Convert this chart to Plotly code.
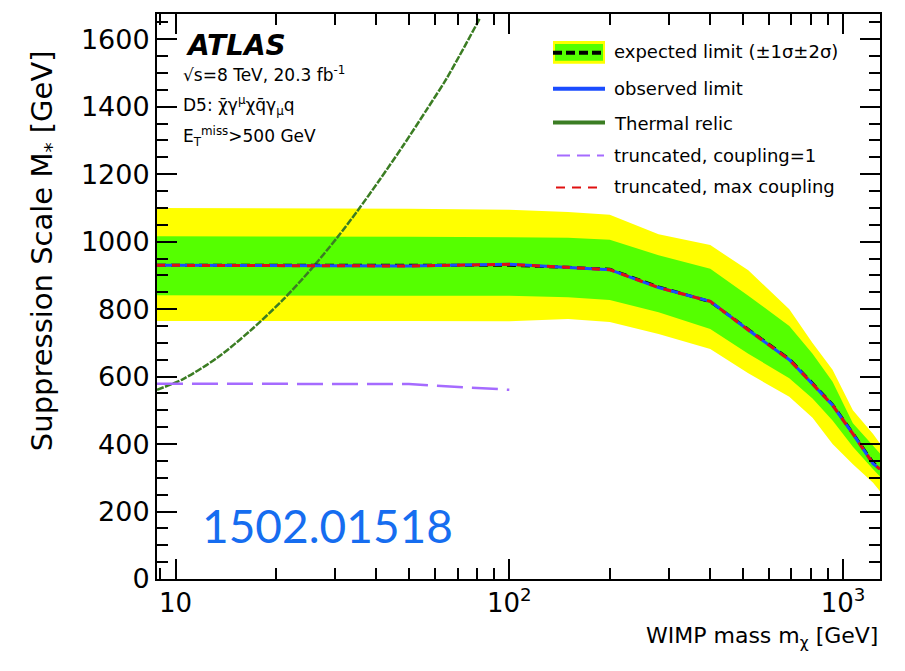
import plotly.graph_objects as go

# ---- data -----------------------------------------------------------------
# WIMP mass points [GeV] for the limit curves and bands
mass = [8.8, 10, 50, 100, 150, 200, 280, 400, 520, 690, 810, 930, 1070, 1230, 1290]
expected = [930, 930, 929, 930, 924, 918, 866, 822, 740, 652, 580, 517, 432, 345, 328]
observed = [930, 930, 928, 933, 924, 917, 864, 823, 738, 650, 578, 515, 430, 342, 326]
band_2s_up = [1100, 1100, 1098, 1095, 1088, 1080, 1022, 990, 915, 800, 700, 620, 500, 430, 402]
band_1s_up = [1016, 1016, 1015, 1013, 1012, 1006, 960, 920, 840, 750, 668, 585, 462, 395, 372]
band_1s_dn = [841, 841, 840, 840, 835, 827, 791, 741, 668, 595, 535, 470, 392, 325, 304]
band_2s_dn = [765, 765, 765, 764, 771, 762, 726, 682, 610, 540, 478, 400, 340, 285, 260]
trunc_max = [930, 930, 928, 933, 924, 917, 864, 823, 738, 650, 578, 515, 430, 342, 326]

# thermal relic curve
relic_mass = [8.8, 10.5, 13.3, 16.7, 21.0, 25.3, 30.5, 35.0, 41.0, 48.1, 56.7, 65.0, 81.6]
relic_ms = [561, 592, 655, 735, 828, 915, 1012, 1090, 1185, 1285, 1393, 1485, 1662]

# truncated limit, coupling = 1
trunc1_mass = [8.8, 20, 50, 75, 100]
trunc1_ms = [579, 579, 578, 568, 561]

# axis ticks
x_major = [10, 100, 1000]
x_major_text = ["10", "10<sup>2</sup>", "10<sup>3</sup>"]
x_minor = [9, 20, 30, 40, 50, 60, 70, 80, 90, 200, 300, 400, 500, 600, 700, 800, 900]

# ---- styling ----------------------------------------------------------------
FONT = "DejaVu Sans"
YELLOW = "#ffff00"
GREEN = "#55ff00"
BLUE = "#1a4cff"
RED = "#e01010"
RELIC = "#3b7d23"
PURPLE = "#a56bff"

W, H = 905, 671
L, R, T, B = 157, 25, 12, 92
PW, PH = W - L - R, H - T - B


def px(xp):
    return (xp - L) / PW


def py(yp):
    return (H - B - yp) / PH


fig = go.Figure()

# ±2σ and ±1σ bands
fig.add_trace(go.Scatter(x=mass + mass[::-1], y=band_2s_up + band_2s_dn[::-1],
                         fill="toself", fillcolor=YELLOW, mode="lines",
                         line=dict(width=0), hoverinfo="skip"))
fig.add_trace(go.Scatter(x=mass + mass[::-1], y=band_1s_up + band_1s_dn[::-1],
                         fill="toself", fillcolor=GREEN, mode="lines",
                         line=dict(width=0), hoverinfo="skip"))

# thermal relic
fig.add_trace(go.Scatter(x=relic_mass, y=relic_ms, mode="lines",
                         line=dict(color=RELIC, width=2.5, dash="7px,1.5px",
                                   shape="spline", smoothing=0.8)))
# truncated, coupling = 1
fig.add_trace(go.Scatter(x=trunc1_mass, y=trunc1_ms, mode="lines",
                         line=dict(color=PURPLE, width=2.5, dash="26px,9px")))
# expected, observed, truncated max coupling
fig.add_trace(go.Scatter(x=mass, y=expected, mode="lines",
                         line=dict(color="black", width=3, dash="9px,5px")))
fig.add_trace(go.Scatter(x=mass, y=observed, mode="lines",
                         line=dict(color=BLUE, width=3)))
fig.add_trace(go.Scatter(x=mass, y=trunc_max, mode="lines",
                         line=dict(color=RED, width=3, dash="8px,7px")))

# ---- legend drawn by hand -------------------------------------------------
shapes = []
lx0, lx1 = px(553), px(605)
shapes.append(dict(type="rect", xref="paper", yref="paper", x0=lx0, x1=lx1,
                   y0=py(62), y1=py(39), fillcolor=YELLOW, line=dict(width=0)))
shapes.append(dict(type="rect", xref="paper", yref="paper", x0=px(555), x1=px(603),
                   y0=py(59), y1=py(42), fillcolor=GREEN, line=dict(width=0)))
shapes.append(dict(type="line", xref="paper", yref="paper", x0=lx0, x1=lx1,
                   y0=py(51), y1=py(51), line=dict(color="black", width=4, dash="9px,4px")))
shapes.append(dict(type="line", xref="paper", yref="paper", x0=lx0, x1=lx1,
                   y0=py(87), y1=py(87), line=dict(color=BLUE, width=4)))
shapes.append(dict(type="line", xref="paper", yref="paper", x0=lx0, x1=lx1,
                   y0=py(121), y1=py(121), line=dict(color=RELIC, width=4)))
shapes.append(dict(type="line", xref="paper", yref="paper", x0=px(557), x1=px(604),
                   y0=py(154), y1=py(154), line=dict(color=PURPLE, width=2, dash="13px,7px")))
shapes.append(dict(type="line", xref="paper", yref="paper", x0=px(556), x1=px(600),
                   y0=py(186), y1=py(186), line=dict(color=RED, width=2, dash="9px,7px")))

ann = []
leg_font = dict(family=FONT, size=18, color="black")
for label, yp in [("expected limit (±1σ±2σ)", 50), ("observed limit", 87),
                  ("Thermal relic", 122), ("truncated, coupling=1", 154),
                  ("truncated, max coupling", 185)]:
    ann.append(dict(x=px(612), y=py(yp), xref="paper", yref="paper", text=label,
                    showarrow=False, xanchor="left", yanchor="middle", font=leg_font))

# experiment labels
ann.append(dict(x=px(184), y=py(44), xref="paper", yref="paper",
                text="<b><i>ATLAS</i></b>", showarrow=False, xanchor="left",
                yanchor="middle", font=dict(family=FONT, size=28, color="black")))
small = dict(family=FONT, size=17, color="black")
ann.append(dict(x=px(181), y=py(72), xref="paper", yref="paper",
                text="√s=8 TeV, 20.3 fb<sup>-1</sup>", showarrow=False,
                xanchor="left", yanchor="middle", font=small))
ann.append(dict(x=px(181), y=py(104), xref="paper", yref="paper",
                text="D5: χ̄γ<sup>μ</sup>χq̄γ<sub>μ</sub>q", showarrow=False,
                xanchor="left", yanchor="middle", font=small))
ann.append(dict(x=px(181), y=py(135), xref="paper", yref="paper",
                text="E<sub>T</sub><sup>miss</sup>>500 GeV", showarrow=False,
                xanchor="left", yanchor="middle", font=small))

# arXiv reference
ann.append(dict(x=px(200), y=py(525), xref="paper", yref="paper",
                text="1502.01518", showarrow=False, xanchor="left", yanchor="middle",
                font=dict(family="Lato", size=46, color="#166df0")))

# axis titles
ann.append(dict(x=px(44), y=py(250), xref="paper", yref="paper",
                text="Suppression Scale M<sub>*</sub> [GeV]", showarrow=False,
                textangle=-90, xanchor="center", yanchor="middle",
                font=dict(family=FONT, size=29, color="black")))
ann.append(dict(x=1.0, y=py(638), xref="paper", yref="paper",
                text="WIMP mass m<sub>χ</sub> [GeV]", showarrow=False,
                xanchor="right", yanchor="middle",
                font=dict(family=FONT, size=22, color="black")))

fig.update_layout(
    width=W, height=H,
    margin=dict(l=L, r=R, t=T, b=B),
    paper_bgcolor="white", plot_bgcolor="white",
    showlegend=False,
    shapes=shapes, annotations=ann,
    font=dict(family=FONT, size=26, color="black"),
)
fig.update_xaxes(
    type="log", range=[0.9445, 3.1106],
    showline=True, linewidth=2, linecolor="black", mirror="allticks",
    ticks="inside", ticklen=20, tickwidth=2, tickcolor="black",
    tickmode="array", tickvals=x_major, ticktext=x_major_text,
    tickfont=dict(family=FONT, size=26),
    minor=dict(tickmode="array", tickvals=x_minor, ticks="inside",
               ticklen=11, tickwidth=2, tickcolor="black", showgrid=False),
    showgrid=False, zeroline=False,
)
fig.update_yaxes(
    range=[0, 1675],
    showline=True, linewidth=2, linecolor="black", mirror="allticks",
    ticks="inside", ticklen=20, tickwidth=2, tickcolor="black",
    tick0=0, dtick=200,
    tickfont=dict(family=FONT, size=27),
    minor=dict(dtick=50, ticks="inside", ticklen=11, tickwidth=2,
               tickcolor="black", showgrid=False),
    showgrid=False, zeroline=False,
)

fig.write_html("out.html")
